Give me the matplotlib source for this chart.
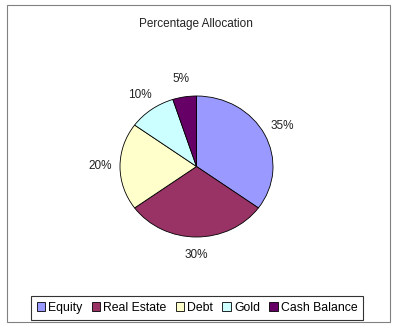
import matplotlib.pyplot as plt
from matplotlib.patches import Rectangle

labels = ['Equity', 'Real Estate', 'Debt', 'Gold', 'Cash Balance']
values = [35, 30, 20, 10, 5]
colors = ['#9999FF', '#993366', '#FFFFCC', '#CCFFFF', '#660066']

plt.rcParams['font.family'] = ['Liberation Sans', 'DejaVu Sans']

fig = plt.figure(figsize=(4, 3.32), dpi=100)
W, H = 400, 332

# рамка вокруг всей диаграммы
fig.patches.append(Rectangle((7 / W, 1 - 322 / H), 383 / W, 317 / H,
                             transform=fig.transFigure, fill=False,
                             edgecolor='#808080', linewidth=0.8))

ax = fig.add_axes([120 / W, 1 - 237 / H, 153 / W, 141 / H])
wedges, texts, autotexts = ax.pie(values, colors=colors, startangle=90, counterclock=False,
                                  autopct='%d%%', pctdistance=1.26,
                                  wedgeprops=dict(edgecolor='black', linewidth=0.6),
                                  textprops=dict(fontsize=8.5, color='#222222'))
ax.set_xlim(-1, 1)
ax.set_ylim(-1, 1)
ax.set_aspect('auto')

fig.text(0.49, 1 - 24 / H, 'Percentage Allocation', ha='center', va='center',
         fontsize=8.5, color='#222222')

leg = fig.legend(wedges, labels, loc='center', bbox_to_anchor=(197 / W, 1 - 308 / H),
                 ncol=5, fontsize=8.8, frameon=True, fancybox=False,
                 handlelength=0.7, handleheight=0.7, handletextpad=0.25,
                 columnspacing=0.75, borderpad=0.5, borderaxespad=0)
leg.get_frame().set_edgecolor('black')
leg.get_frame().set_linewidth(0.8)

fig.savefig('out.png', dpi=100)
